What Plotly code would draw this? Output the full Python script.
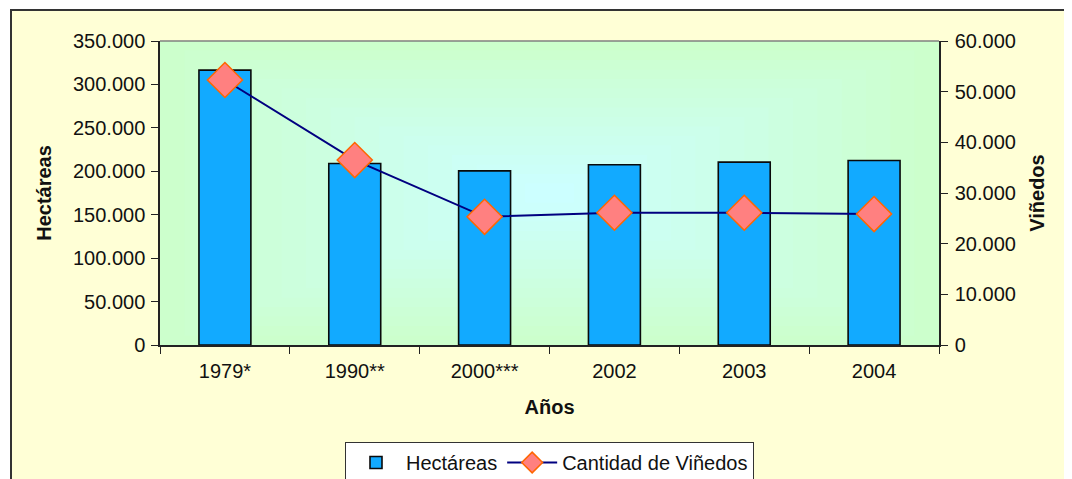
import plotly.graph_objects as go

# ---- data ----
anios = ["1979*", "1990**", "2000***", "2002", "2003", "2004"]
hectareas = [316500, 209000, 200500, 207500, 210500, 212500]
vinedos = [52300, 36500, 25300, 26100, 26100, 25850]

# ---- layout constants (page has an 8px body margin) ----
OFF = 8
W, H = 1072 - OFF, 479 - OFF
L, R, T, B = 152, 133, 33, 134
PW, PH = W - L - R, H - T - B

FONT = "Liberation Sans, Arial, sans-serif"

fig = go.Figure()

fig.add_trace(go.Bar(
    x=anios, y=hectareas, name="Hectáreas",
    marker=dict(color="#12AAFF", line=dict(color="#0A0A0A", width=1.6)),
    width=0.4, yaxis="y",
))
fig.add_trace(go.Scatter(
    x=anios, y=vinedos, name="Cantidad de Viñedos", yaxis="y2",
    mode="lines+markers",
    line=dict(color="#000080", width=2),
    marker=dict(symbol="diamond", size=27, color="#FF8080",
                line=dict(color="#FF6600", width=1.5)),
))

shapes = []
px = lambda v: (v - OFF - L) / PW
py = lambda v: (H - B - (v - OFF)) / PH
# outer chart frame (light yellow with dark border)
shapes.append(dict(type="rect", xref="paper", yref="paper",
                   x0=px(11), x1=px(1072 + 20), y0=py(479 + 20), y1=py(10),
                   fillcolor="#FFFFD6", line=dict(color="#333333", width=2),
                   layer="below"))
# plot area "from center" gradient (green edges -> cyan center)
N = 16
g0 = (204, 255, 204)
g1 = (204, 255, 255)
for i in range(N):
    f = i / (N - 1)
    c = tuple(round(g0[k] + (g1[k] - g0[k]) * f) for k in range(3))
    d = 0.5 * i / N
    shapes.append(dict(type="rect", xref="x domain", yref="y domain",
                       x0=d, x1=1 - d, y0=d, y1=1 - d,
                       fillcolor="rgb(%d,%d,%d)" % c, line=dict(width=0),
                       layer="below"))
# top border of plot area
shapes.append(dict(type="line", xref="x domain", yref="y domain",
                   x0=0, x1=1, y0=1, y1=1,
                   line=dict(color="#808080", width=1.5)))

fig.update_layout(
    width=W, height=H,
    margin=dict(l=L, r=R, t=T, b=B, pad=0, autoexpand=False),
    paper_bgcolor="white",
    plot_bgcolor="#CCFFCC",
    separators=",.",
    font=dict(family=FONT, size=20, color="#111111"),
    shapes=shapes,
    showlegend=True,
    legend=dict(orientation="h", x=0.5, xanchor="center",
                y=py(442), yanchor="top",
                bgcolor="white", bordercolor="#333333", borderwidth=1,
                font=dict(size=20), itemwidth=50, tracegroupgap=0),
    xaxis=dict(
        type="category", showline=True, linecolor="#222222", linewidth=1.5,
        ticks="outside", ticklen=7, tickcolor="#222222", tickson="boundaries",
        showgrid=False, zeroline=False, automargin=False, ticklabelstandoff=7,
        title=dict(text="<b>Años</b>", font=dict(size=20), standoff=19),
    ),
    yaxis=dict(
        range=[0, 350000], dtick=50000, tickformat=",.0f",
        showline=True, linecolor="#222222", linewidth=1.5,
        ticks="outside", ticklen=7, tickcolor="#222222",
        showgrid=False, zeroline=False, automargin=False, ticklabelstandoff=2,
        title=dict(text="<b>Hectáreas</b>", font=dict(size=20), standoff=16),
    ),
    yaxis2=dict(
        range=[0, 60000], dtick=10000, tickformat=",.0f",
        overlaying="y", side="right", anchor="x",
        showline=True, linecolor="#222222", linewidth=1.5,
        ticks="outside", ticklen=7, tickcolor="#222222",
        showgrid=False, zeroline=False, automargin=False, ticklabelstandoff=3,
        title=dict(text="<b>Viñedos</b>", font=dict(size=20), standoff=15),
    ),
)

fig.write_html("out.html")
